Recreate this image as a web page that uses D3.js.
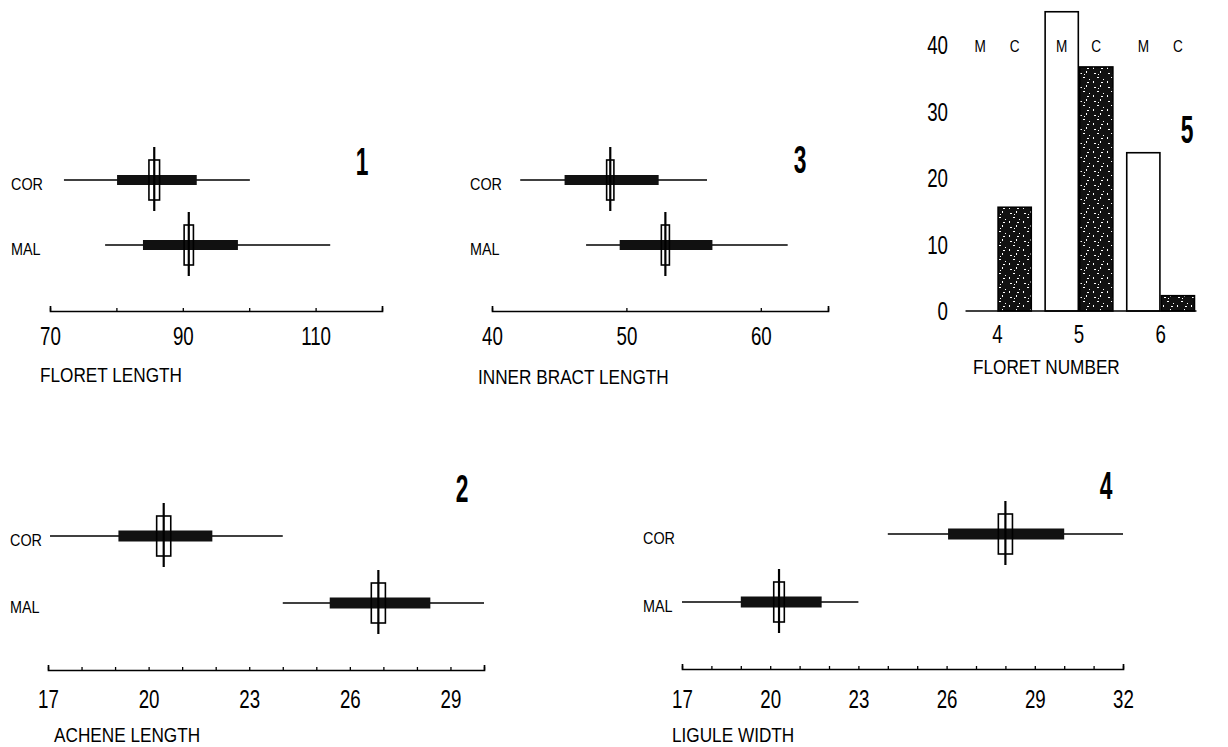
<!DOCTYPE html>
<html><head><meta charset="utf-8">
<script src="https://cdn.jsdelivr.net/npm/d3@7"></script>
<style>body{margin:0;background:#fff}svg{display:block}</style>
</head><body>
<svg id="c" width="1228" height="747"></svg>
<script>
// ---------------- DATA ----------------
const groups = ["COR", "MAL"];

// Panel 1 – floret length
const floretTicks = [70, 80, 90, 100, 110, 120];
const floretTickLabels = [70, 90, 110];
const floretMin = [72.1, 78.3];
const floretMax = [100.1, 112.2];
const floretSdLow = [80.1, 84.0];
const floretSdHigh = [92.1, 98.3];
const floretMean = [85.7, 90.9];
const floretCi = [0.8, 0.7];

// Panel 3 – inner bract length
const bractTicks = [40, 50, 60, 65];
const bractTickLabels = [40, 50, 60];
const bractMin = [42.1, 47.0];
const bractMax = [56.0, 62.0];
const bractSdLow = [45.4, 49.5];
const bractSdHigh = [52.4, 56.4];
const bractMean = [48.8, 52.9];
const bractCi = [0.27, 0.3];

// Panel 2 – achene length
const acheneTicks = [17, 18, 19, 20, 21, 22, 23, 24, 25, 26, 27, 28, 29, 30];
const acheneTickLabels = [17, 20, 23, 26, 29];
const acheneMin = [17.06, 24.0];
const acheneMax = [24.0, 30.0];
const acheneSdLow = [19.1, 25.4];
const acheneSdHigh = [21.9, 28.4];
const acheneMean = [20.45, 26.85];
const acheneCi = [0.21, 0.21];

// Panel 4 – ligule width
const liguleTicks = [17, 18, 19, 20, 21, 22, 23, 24, 25, 26, 27, 28, 29, 30, 31, 32];
const liguleTickLabels = [17, 20, 23, 26, 29, 32];
const liguleMin = [24.0, 17.0];
const liguleMax = [32.0, 23.0];
const liguleSdLow = [26.05, 19.0];
const liguleSdHigh = [30.0, 21.75];
const liguleMean = [28.0, 20.3];
const liguleCi = [0.24, 0.18];

// Panel 5 – floret number
const floretNumbers = [4, 5, 6];
const floretSeries = ["M", "C"];
const floretCountM = [0, 45, 23.8];
const floretCountC = [15.6, 36.7, 2.3];
const countTicks = [0, 10, 20, 30, 40];

// ---------------- DRAWING ----------------
const svg = d3.select("#c");
const FONT = "'Liberation Sans', Arial, sans-serif";

const defs = svg.append("defs");
const pat = defs.append("pattern").attr("id", "stip").attr("patternUnits", "userSpaceOnUse")
  .attr("width", 14).attr("height", 14);
pat.append("rect").attr("width", 14).attr("height", 14).attr("fill", "#111");
[[2,3,2,1],[8,1,1,2],[5,7,2,1],[11,9,1,1],[1,11,1,2],[9,12,2,1],[6,4,1,1]].forEach(p =>
  pat.append("rect").attr("x", p[0]).attr("y", p[1]).attr("width", p[2]).attr("height", p[3]).attr("fill", "#fff"));

function label(g, txt, x, y, size, sx, anchor, weight) {
  return g.append("text").attr("transform", `translate(${x},${y}) scale(${sx},1)`)
    .attr("text-anchor", anchor || "start").attr("font-family", FONT)
    .attr("font-size", size).attr("font-weight", weight || "normal").attr("fill", "#000").text(txt);
}

function dice(cfg) {
  const g = svg.append("g");
  const x = d3.scaleLinear().domain(cfg.domain).range(cfg.range);
  const y = d3.scalePoint().domain(groups).range(cfg.rows);

  const ax = g.append("g").attr("transform", `translate(0,${cfg.axisY})`)
    .call(d3.axisBottom(x).tickValues(cfg.ticks).tickSizeInner(-3).tickSizeOuter(-5)
      .tickFormat(d => cfg.tickLabels.includes(d) ? d : ""));
  ax.select(".domain").attr("stroke-width", 1.7);
  ax.selectAll(".tick line").attr("stroke-width", 1.3);
  ax.selectAll(".tick text").attr("y", cfg.labelDy).attr("dy", 0)
    .attr("font-size", 26).attr("font-family", FONT).attr("transform", "scale(0.72,1)");

  const rows = groups.map((gname, i) => ({
    g: gname, min: cfg.min[i], max: cfg.max[i], lo: cfg.sdLow[i], hi: cfg.sdHigh[i],
    mean: cfg.mean[i], ci: cfg.ci[i]
  }));
  const bh = cfg.barH;
  g.selectAll(".rng").data(rows).join("line")
    .attr("x1", d => x(d.min)).attr("x2", d => x(d.max))
    .attr("y1", d => y(d.g)).attr("y2", d => y(d.g))
    .attr("stroke", "#000").attr("stroke-width", 1.5);
  g.selectAll(".sd").data(rows).join("rect")
    .attr("x", d => x(d.lo)).attr("width", d => x(d.hi) - x(d.lo))
    .attr("y", d => y(d.g) - bh / 2).attr("height", bh).attr("fill", "#111");
  g.selectAll(".ci").data(rows).join("rect")
    .attr("x", d => x(d.mean - d.ci)).attr("width", d => x(d.mean + d.ci) - x(d.mean - d.ci))
    .attr("y", d => y(d.g) - 20).attr("height", 40)
    .attr("fill", "none").attr("stroke", "#000").attr("stroke-width", 1.6);
  g.selectAll(".mn").data(rows).join("line")
    .attr("x1", d => x(d.mean)).attr("x2", d => x(d.mean))
    .attr("y1", d => y(d.g) - 33).attr("y2", d => y(d.g) + 31)
    .attr("stroke", "#000").attr("stroke-width", 2.2);

  groups.forEach(gname => label(g, gname, cfg.nameX, y(gname) + 10, 16, 0.9));
  label(g, cfg.title, cfg.titleX, cfg.titleY, 20, 0.86);
  label(g, cfg.num, cfg.numX, cfg.numY, 38, 0.6, "middle", "bold");
}

dice({domain: [70, 120], range: [50, 382], rows: [180, 245], axisY: 311, labelDy: 34, barH: 10,
  ticks: floretTicks, tickLabels: floretTickLabels,
  min: floretMin, max: floretMax, sdLow: floretSdLow, sdHigh: floretSdHigh, mean: floretMean, ci: floretCi,
  nameX: 11, title: "FLORET LENGTH", titleX: 40, titleY: 382, num: "1", numX: 362, numY: 175});

dice({domain: [40, 65], range: [492, 828], rows: [180, 245], axisY: 311, labelDy: 34, barH: 10,
  ticks: bractTicks, tickLabels: bractTickLabels,
  min: bractMin, max: bractMax, sdLow: bractSdLow, sdHigh: bractSdHigh, mean: bractMean, ci: bractCi,
  nameX: 470, title: "INNER BRACT LENGTH", titleX: 478, titleY: 384, num: "3", numX: 800, numY: 173});

dice({domain: [17, 30], range: [48, 484], rows: [536, 603], axisY: 670, labelDy: 38, barH: 11,
  ticks: acheneTicks, tickLabels: acheneTickLabels,
  min: acheneMin, max: acheneMax, sdLow: acheneSdLow, sdHigh: acheneSdHigh, mean: acheneMean, ci: acheneCi,
  nameX: 10, title: "ACHENE LENGTH", titleX: 54, titleY: 742, num: "2", numX: 462, numY: 502});

dice({domain: [17, 32], range: [682, 1123], rows: [534, 602], axisY: 669, labelDy: 39, barH: 11,
  ticks: liguleTicks, tickLabels: liguleTickLabels,
  min: liguleMin, max: liguleMax, sdLow: liguleSdLow, sdHigh: liguleSdHigh, mean: liguleMean, ci: liguleCi,
  nameX: 643, title: "LIGULE WIDTH", titleX: 672, titleY: 742, num: "4", numX: 1106, numY: 499});

// Panel 5 – grouped bars
(function () {
  const g = svg.append("g");
  const x0 = d3.scaleBand().domain(floretNumbers).range([957, 1201]).paddingInner(0.17).paddingOuter(0.08);
  const x1 = d3.scaleBand().domain(floretSeries).range([0, x0.bandwidth()]).paddingInner(0.04);
  const y = d3.scaleLinear().domain([0, 40]).range([311, 45]);
  const data = [];
  floretNumbers.forEach((n, i) => {
    data.push({n, s: "M", v: floretCountM[i]});
    data.push({n, s: "C", v: floretCountC[i]});
  });
  g.selectAll(".bar").data(data.filter(d => d.v > 0)).join("rect")
    .attr("x", d => x0(d.n) + x1(d.s)).attr("width", x1.bandwidth())
    .attr("y", d => y(d.v)).attr("height", d => y(0) - y(d.v))
    .attr("fill", d => d.s === "M" ? "#fff" : "url(#stip)")
    .attr("stroke", "#000").attr("stroke-width", 1.6);
  g.append("line").attr("x1", x0(4) + 2).attr("x2", x0(6) + x0.bandwidth() + 2)
    .attr("y1", y(0)).attr("y2", y(0)).attr("stroke", "#000").attr("stroke-width", 1.6);
  countTicks.forEach(t => label(g, t, 948, y(t) + 9, 26, 0.72, "end"));
  floretNumbers.forEach(n => label(g, n, x0(n) + x0.bandwidth() / 2, 343, 26, 0.72, "middle"));
  floretNumbers.forEach(n => floretSeries.forEach(s =>
    label(g, s, x0(n) + x1(s) + x1.bandwidth() / 2, 52, 16, 0.85, "middle")));
  label(g, "FLORET NUMBER", 973, 374, 20, 0.86);
  label(g, "5", 1187, 143, 38, 0.6, "middle", "bold");
})();
</script>
</body></html>
